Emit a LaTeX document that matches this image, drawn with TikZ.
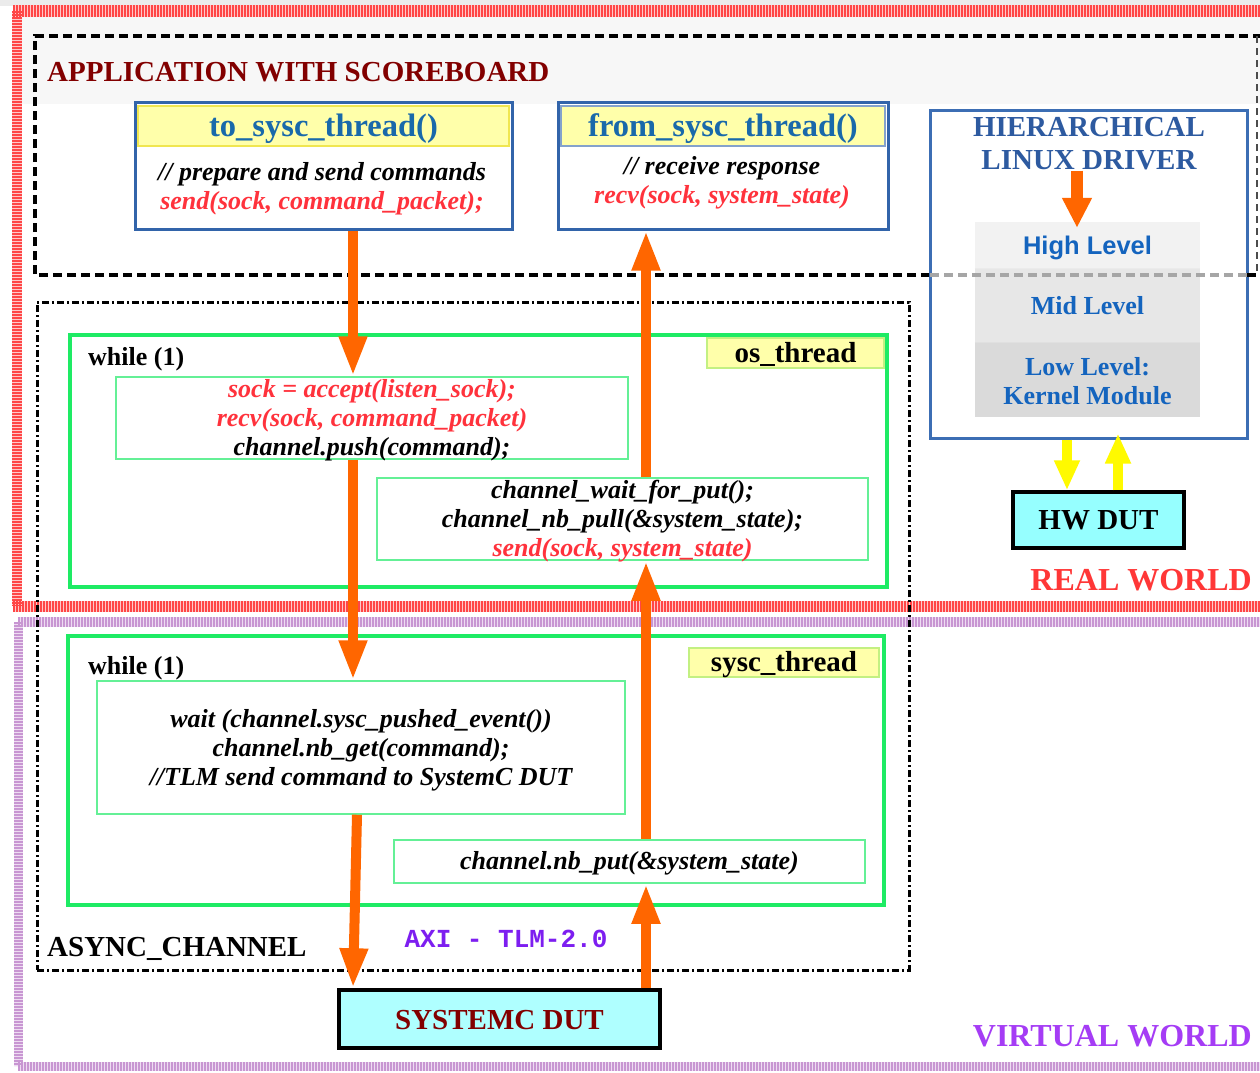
\documentclass[tikz,border=0pt]{standalone}
\usepackage{fontspec}
\setmainfont{Liberation Serif}
\newfontfamily\lvlsans{Liberation Sans}
\newfontfamily\axifont{Liberation Mono}
\usetikzlibrary{arrows.meta}

\definecolor{darkred}{RGB}{130,0,0}
\definecolor{headblue}{RGB}{25,105,170}
\definecolor{boxblue}{RGB}{50,100,170}
\definecolor{drvblue}{RGB}{60,110,180}
\definecolor{drvtext}{RGB}{45,90,160}
\definecolor{lvltext}{RGB}{20,100,190}
\definecolor{codered}{RGB}{255,50,60}
\definecolor{hdyellow}{RGB}{255,255,170}
\definecolor{hdgold}{RGB}{240,230,80}
\definecolor{thgreen}{RGB}{30,235,100}
\definecolor{ingreen}{RGB}{100,240,150}
\definecolor{lblborder}{RGB}{195,240,130}
\definecolor{arrorange}{RGB}{255,102,0}
\definecolor{arryellow}{RGB}{255,250,0}
\definecolor{hwcyan}{RGB}{150,255,255}
\definecolor{sccyan}{RGB}{175,255,255}
\definecolor{realred}{RGB}{255,55,55}
\definecolor{hatchred}{RGB}{255,70,70}
\definecolor{hatchpink}{RGB}{255,200,200}
\definecolor{hatchlilac}{RGB}{200,150,210}
\definecolor{hatchpale}{RGB}{238,220,242}
\definecolor{virtpurple}{RGB}{165,60,245}
\definecolor{axipurple}{RGB}{125,30,240}
\definecolor{lvlhigh}{RGB}{242,242,242}
\definecolor{lvlmid}{RGB}{231,231,231}
\definecolor{lvllow}{RGB}{218,218,218}

\newcommand\codefont{\fontsize{26}{29}\selectfont\bfseries\itshape}
\newcommand\titlefont{\fontsize{29}{33}\selectfont\bfseries}
% lower a single line inside its frame without changing the frame
\newcommand\dn[2][3pt]{\raisebox{-#1}[\height][\depth]{#2}}

\begin{document}
\begin{tikzpicture}[x=1pt,y=-1pt,
  hatch/.style={line width=#1, dash pattern=on 1.6pt off 1.4pt},
  appline/.style={line width=3.5pt, dash pattern=on 9pt off 5pt},
  codebox/.style={draw=boxblue, line width=3pt, fill=white, inner sep=0pt},
  header/.style={fill=hdyellow, draw=hdgold, line width=1.5pt, inner sep=0pt,
    text=headblue, font=\fontsize{32.5}{35}\selectfont\bfseries},
  code/.style={font=\codefont, align=center, inner sep=0pt},
  thread/.style={draw=thgreen, line width=3.5pt, inner sep=0pt},
  inner/.style={draw=ingreen, line width=1.5pt, inner sep=0pt},
  thlabel/.style={fill=hdyellow, draw=lblborder, line width=1.5pt, inner sep=0pt,
    font=\fontsize{29}{31}\selectfont\bfseries},
  plain/.style={font=\titlefont, inner sep=0pt},
  level/.style={inner sep=0pt, minimum width=225pt, text=lvltext},
  dut/.style={draw=black, line width=3.5pt, inner sep=0pt, font=\titlefont},
  oarrow/.style={draw=arrorange, line width=10pt, -{Triangle[width=26pt,length=40pt]}},
  yarrow/.style={draw=arryellow, line width=10pt, -{Triangle[width=24pt,length=30pt]}}
]
\useasboundingbox (0,0) rectangle (1260,1072);
\fill[white] (0,0) rectangle (1260,1072);
\fill[black!8] (0,0) rectangle (1260,6);
\fill[black!3] (22,17) rectangle (1260,104);

% real world frame
\draw[line width=12pt, draw=hatchpink] (13,11) -- (1260,11);
\draw[line width=10pt, draw=hatchpink] (17,11) -- (17,606);
\draw[line width=11pt, draw=hatchpink] (13,606) -- (1260,606);
\draw[hatch=12pt, draw=hatchred] (13,11) -- (1260,11);
\draw[hatch=10pt, draw=hatchred] (17,11) -- (17,606);
\draw[hatch=11pt, draw=hatchred] (13,606) -- (1260,606);
% virtual world frame
\draw[line width=10pt, draw=hatchpale] (18,622) -- (1260,622);
\draw[line width=9pt, draw=hatchpale] (18,622) -- (18,1066);
\draw[line width=9pt, draw=hatchpale] (18,1066) -- (1260,1066);
\draw[hatch=10pt, draw=hatchlilac] (18,622) -- (1260,622);
\draw[hatch=9pt, draw=hatchlilac] (18,622) -- (18,1066);
\draw[hatch=9pt, draw=hatchlilac] (18,1066) -- (1260,1066);

% application frame
\draw[appline] (930,275) -- (35,275) -- (35,36) -- (1260,36);
\draw[line width=1.5pt, draw=black!70, dash pattern=on 7pt off 5pt] (1257,36) -- (1257,275);

\node[plain, text=darkred, anchor=west] (apptitle) at (47,72) {APPLICATION WITH SCOREBOARD};

% socket threads of the application
\node[codebox, minimum width=377pt, minimum height=127pt] (tosysc) at (323.5,165.5) {};
\node[header, minimum width=371pt, minimum height=40pt] (tohead) at (323.5,126) {\dn{to\_sysc\_thread()}};
\node[code] (tobody) at (322,189) {// prepare and send commands\\\textcolor{codered}{send(sock, command\_packet);}};

\node[codebox, minimum width=330pt, minimum height=127pt] (fromsysc) at (723,165.5) {};
\node[header, draw=boxblue!60, minimum width=324pt, minimum height=40pt] (fromhead) at (723,126) {\dn{from\_sysc\_thread()}};
\node[code] (frombody) at (722,182.5) {// receive response\\\textcolor{codered}{recv(sock, system\_state)}};

% driver stack
\node[draw=drvblue, line width=3pt, fill=white, minimum width=317pt, minimum height=328pt, inner sep=0pt] (drv) at (1088.5,274) {};
\node[plain, text=drvtext, align=center] (drvtitle) at (1089,144) {HIERARCHICAL\\LINUX DRIVER};
\node[level, fill=lvlhigh, minimum height=46pt, font=\lvlsans\fontsize{25.5}{28}\selectfont\bfseries] (high) at (1087.5,245) {\dn{High Level}};
\node[level, fill=lvlmid, minimum height=74pt, font=\fontsize{26}{29}\selectfont\bfseries] (mid) at (1087.5,305) {\dn[1pt]{Mid Level}};
\node[level, fill=lvllow, minimum height=75pt, font=\fontsize{26}{29}\selectfont\bfseries] (low) at (1087.5,379.5) {};
\node[inner sep=0pt, text=lvltext, align=center, font=\fontsize{26}{29}\selectfont\bfseries] (lowtext) at (1087.5,381.5) {Low Level:\\Kernel Module};
\draw[black!8, line width=1pt] (high.south west) -- (high.south east);
\draw[black!12, line width=1pt] (mid.south west) -- (mid.south east);
\draw[appline, draw=black!35] (930,275) -- (1247,275);
\draw[appline] (1247,275) -- (1260,275);
\coordinate (drvcol) at (1077,0);
\draw[draw=arrorange, line width=12pt, -{Triangle[width=28pt,length=30pt]}] (drvtitle.south -| drvcol) -- ([yshift=-6pt]high.north -| drvcol);

% hardware under test
\node[dut, fill=hwcyan, minimum width=171pt, minimum height=56pt] (hwdut) at (1098.5,520) {HW DUT};
\coordinate (hwdown) at (1067,0);
\coordinate (hwup) at (1118,0);
\draw[yarrow] (drv.south -| hwdown) -- (hwdut.north -| hwdown);
\draw[yarrow] (hwdut.north -| hwup) -- ([yshift=6pt]drv.south -| hwup);

\node[plain, text=realred, anchor=east, font=\fontsize{32}{34}\selectfont\bfseries] (realw) at (1252,580.5) {REAL WORLD};
\node[plain, text=virtpurple, anchor=east, font=\fontsize{32}{34}\selectfont\bfseries] (virtw) at (1252,1036) {VIRTUAL WORLD};

% asynchronous channel
\node[draw=black, line width=3pt, dash pattern=on 7pt off 3pt on 2pt off 3pt, minimum width=872pt, minimum height=668pt, inner sep=0pt] (async) at (473,636) {};

\node[thread, minimum width=817pt, minimum height=252pt] (osth) at (478.5,461) {};
\node[thlabel, minimum width=177pt, minimum height=30pt] (oslabel) at (795.5,353) {\dn[1.5pt]{os\_thread}};
\node[plain, anchor=west, font=\fontsize{26}{28}\selectfont\bfseries] (oswhile) at (88,359.5) {while (1)};
\node[inner, minimum width=512pt, minimum height=82pt] (osA) at (372,418) {};
\node[code] (osAtext) at ([yshift=-2.5pt]osA.center)
  {\textcolor{codered}{sock = accept(listen\_sock);}\\\textcolor{codered}{recv(sock, command\_packet)}\\channel.push(command);};
\node[inner, minimum width=491pt, minimum height=82pt] (osB) at (622.5,519) {};
\node[code] (osBtext) at ([yshift=-2pt]osB.center)
  {channel\_wait\_for\_put();\\channel\_nb\_pull(\&system\_state);\\\textcolor{codered}{send(sock, system\_state)}};

\node[thread, minimum width=816pt, minimum height=269pt] (scth) at (476,770.5) {};
\node[thlabel, minimum width=190pt, minimum height=29pt] (sclabel) at (784,662.5) {\dn[2pt]{sysc\_thread}};
\node[plain, anchor=west, font=\fontsize{26}{28}\selectfont\bfseries] (scwhile) at (88,668.5) {while (1)};
\node[inner, minimum width=528pt, minimum height=133pt] (scA) at (361,747.5) {};
\node[code] (scAtext) at ([yshift=-2.5pt]scA.center)
  {wait (channel.sysc\_pushed\_event())\\channel.nb\_get(command);\\//TLM send command to SystemC DUT};
\node[inner, minimum width=471pt, minimum height=43pt] (scB) at (629.5,861.5) {};
\node[code] (scBtext) at ([yshift=-2pt]scB.center) {channel.nb\_put(\&system\_state)};

\node[plain, anchor=west, font=\fontsize{29}{31}\selectfont\bfseries] (asynclabel) at (47,949) {ASYNC\_CHANNEL};
\node[inner sep=0pt, text=axipurple, font=\axifont\fontsize{26}{28}\selectfont\bfseries] (axi) at (506,939) {AXI - TLM-2.0};

% SystemC model under test
\node[dut, fill=sccyan, text=darkred, minimum width=321pt, minimum height=58pt] (sysdut) at (499.5,1019) {\dn[1pt]{SYSTEMC DUT}};

% command and response paths
\coordinate (colL) at (353,0);
\coordinate (colLb) at (357,0);
\coordinate (colR) at (646,0);
\draw[oarrow] (tosysc.south -| colL) -- (osA.north -| colL);
\draw[oarrow] (osA.south -| colL) -- (scA.north -| colL);
\draw[oarrow] (scA.south -| colLb) -- (sysdut.north -| colL);
\draw[oarrow] (sysdut.north -| colR) -- (scB.south -| colR);
\draw[oarrow] (scB.north -| colR) -- (osB.south -| colR);
\draw[oarrow] (osB.north -| colR) -- (fromsysc.south -| colR);
\end{tikzpicture}
\end{document}
